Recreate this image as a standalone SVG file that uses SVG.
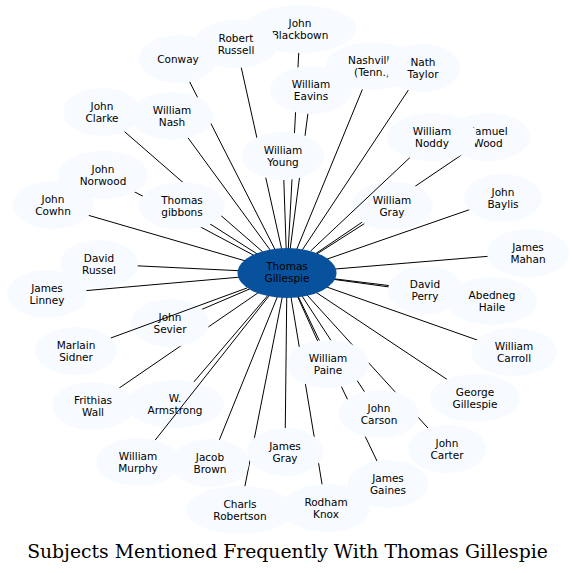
<svg xmlns="http://www.w3.org/2000/svg" width="575" height="573" viewBox="0 0 575 573">
<style>
.n ellipse{fill:#f7fbff;stroke:none}
.n text,.c text{font-family:"DejaVu Sans","Liberation Sans",sans-serif;font-size:10.5px;fill:#000;text-anchor:middle}
.c ellipse{fill:#08519c;stroke:none}
#edges line,#edges-over line{stroke:#000;stroke-width:1}
.title{font-family:"DejaVu Serif","Liberation Serif",serif;font-size:18.8px;fill:#000;text-anchor:middle}
</style>
<rect width="575" height="573" fill="#fff"/>
<g id="edges">
<line x1="287" y1="273" x2="300" y2="29"/>
<line x1="287" y1="273" x2="236" y2="44"/>
<line x1="287" y1="273" x2="178" y2="59"/>
<line x1="287" y1="273" x2="372" y2="66"/>
<line x1="287" y1="273" x2="423" y2="68"/>
<line x1="287" y1="273" x2="311" y2="90"/>
<line x1="287" y1="273" x2="102" y2="112"/>
<line x1="287" y1="273" x2="172" y2="116"/>
<line x1="287" y1="273" x2="488" y2="137"/>
<line x1="287" y1="273" x2="283" y2="156"/>
<line x1="287" y1="273" x2="103" y2="175"/>
<line x1="287" y1="273" x2="182" y2="206"/>
<line x1="287" y1="273" x2="53" y2="205"/>
<line x1="287" y1="273" x2="392" y2="206"/>
<line x1="287" y1="273" x2="503" y2="198"/>
<line x1="287" y1="273" x2="528" y2="253"/>
<line x1="287" y1="273" x2="99" y2="264"/>
<line x1="287" y1="273" x2="47" y2="294"/>
<line x1="287" y1="273" x2="425" y2="290"/>
<line x1="287" y1="273" x2="492" y2="301"/>
<line x1="287" y1="273" x2="170" y2="323"/>
<line x1="287" y1="273" x2="514" y2="353"/>
<line x1="287" y1="273" x2="328" y2="364"/>
<line x1="287" y1="273" x2="93" y2="406"/>
<line x1="287" y1="273" x2="175" y2="404"/>
<line x1="287" y1="273" x2="475" y2="398"/>
<line x1="287" y1="273" x2="379" y2="414"/>
<line x1="287" y1="273" x2="447" y2="449"/>
<line x1="287" y1="273" x2="210" y2="463"/>
<line x1="287" y1="273" x2="285" y2="452"/>
<line x1="287" y1="273" x2="388" y2="484"/>
<line x1="287" y1="273" x2="240" y2="511"/>
<line x1="287" y1="273" x2="326" y2="508"/>
</g>
<g id="n-blackbown" class="n"><ellipse cx="300" cy="29" rx="56" ry="24"/><text x="300" y="27">John</text><text x="300" y="39">Blackbown</text></g>
<g id="n-robertrussell" class="n"><ellipse cx="236" cy="44" rx="42" ry="24"/><text x="236" y="42">Robert</text><text x="236" y="54">Russell</text></g>
<g id="n-conway" class="n"><ellipse cx="178" cy="59" rx="39" ry="24"/><text x="178" y="63">Conway</text></g>
<g id="n-nashville" class="n"><ellipse cx="372" cy="66" rx="46" ry="24"/><text x="372" y="64">Nashville</text><text x="372" y="76">(Tenn.)</text></g>
<g id="n-nathtaylor" class="n"><ellipse cx="423" cy="68" rx="37" ry="24"/><text x="423" y="66">Nath</text><text x="423" y="78">Taylor</text></g>
<g id="n-eavins" class="n"><ellipse cx="311" cy="90" rx="41" ry="24"/><text x="311" y="88">William</text><text x="311" y="100">Eavins</text></g>
<g id="n-clarke" class="n"><ellipse cx="102" cy="112" rx="39" ry="24"/><text x="102" y="110">John</text><text x="102" y="122">Clarke</text></g>
<g id="n-nash" class="n"><ellipse cx="172" cy="116" rx="41" ry="24"/><text x="172" y="114">William</text><text x="172" y="126">Nash</text></g>
<g id="n-samuelwood" class="n"><ellipse cx="488" cy="137" rx="42" ry="24"/><text x="488" y="135">Samuel</text><text x="488" y="147">Wood</text></g>
<g id="n-noddy" class="n"><ellipse cx="432" cy="137" rx="45" ry="24"/><text x="432" y="135">William</text><text x="432" y="147">Noddy</text></g>
<g id="n-young" class="n"><ellipse cx="283" cy="156" rx="41" ry="24"/><text x="283" y="154">William</text><text x="283" y="166">Young</text></g>
<g id="n-norwood" class="n"><ellipse cx="103" cy="175" rx="45" ry="24"/><text x="103" y="173">John</text><text x="103" y="185">Norwood</text></g>
<g id="n-gibbons" class="n"><ellipse cx="182" cy="206" rx="43" ry="24"/><text x="182" y="204">Thomas</text><text x="182" y="216">gibbons</text></g>
<g id="n-cowhn" class="n"><ellipse cx="53" cy="205" rx="40" ry="24"/><text x="53" y="203">John</text><text x="53" y="215">Cowhn</text></g>
<g id="n-gray" class="n"><ellipse cx="392" cy="206" rx="41" ry="24"/><text x="392" y="204">William</text><text x="392" y="216">Gray</text></g>
<g id="n-baylis" class="n"><ellipse cx="503" cy="198" rx="39" ry="24"/><text x="503" y="196">John</text><text x="503" y="208">Baylis</text></g>
<g id="n-mahan" class="n"><ellipse cx="528" cy="253" rx="41" ry="24"/><text x="528" y="251">James</text><text x="528" y="263">Mahan</text></g>
<g id="n-davidrussel" class="n"><ellipse cx="99" cy="264" rx="39" ry="24"/><text x="99" y="262">David</text><text x="99" y="274">Russel</text></g>
<g id="n-linney" class="n"><ellipse cx="47" cy="294" rx="40" ry="24"/><text x="47" y="292">James</text><text x="47" y="304">Linney</text></g>
<g id="n-perry" class="n"><ellipse cx="425" cy="290" rx="37" ry="24"/><text x="425" y="288">David</text><text x="425" y="300">Perry</text></g>
<g id="n-haile" class="n"><ellipse cx="492" cy="301" rx="45" ry="24"/><text x="492" y="299">Abedneg</text><text x="492" y="311">Haile</text></g>
<g id="n-sevier" class="n"><ellipse cx="170" cy="323" rx="39" ry="24"/><text x="170" y="321">John</text><text x="170" y="333">Sevier</text></g>
<g id="n-sidner" class="n"><ellipse cx="76" cy="351" rx="41" ry="24"/><text x="76" y="349">Marlain</text><text x="76" y="361">Sidner</text></g>
<g id="n-carroll" class="n"><ellipse cx="514" cy="352" rx="43" ry="24"/><text x="514" y="350">William</text><text x="514" y="362">Carroll</text></g>
<g id="n-paine" class="n"><ellipse cx="328" cy="364" rx="41" ry="24"/><text x="328" y="362">William</text><text x="328" y="374">Paine</text></g>
<g id="n-wall" class="n"><ellipse cx="93" cy="406" rx="41" ry="24"/><text x="93" y="404">Frithias</text><text x="93" y="416">Wall</text></g>
<g id="n-armstrong" class="n"><ellipse cx="175" cy="404" rx="49" ry="24"/><text x="175" y="402">W.</text><text x="175" y="414">Armstrong</text></g>
<g id="n-georgegillespie" class="n"><ellipse cx="475" cy="398" rx="45" ry="24"/><text x="475" y="396">George</text><text x="475" y="408">Gillespie</text></g>
<g id="n-carson" class="n"><ellipse cx="379" cy="414" rx="40" ry="24"/><text x="379" y="412">John</text><text x="379" y="424">Carson</text></g>
<g id="n-carter" class="n"><ellipse cx="447" cy="449" rx="39" ry="24"/><text x="447" y="447">John</text><text x="447" y="459">Carter</text></g>
<g id="n-murphy" class="n"><ellipse cx="138" cy="462" rx="42" ry="24"/><text x="138" y="460">William</text><text x="138" y="472">Murphy</text></g>
<g id="n-jacobbrown" class="n"><ellipse cx="210" cy="463" rx="39" ry="24"/><text x="210" y="461">Jacob</text><text x="210" y="473">Brown</text></g>
<g id="n-jamesgray" class="n"><ellipse cx="285" cy="452" rx="38" ry="24"/><text x="285" y="450">James</text><text x="285" y="462">Gray</text></g>
<g id="n-gaines" class="n"><ellipse cx="388" cy="484" rx="40" ry="24"/><text x="388" y="482">James</text><text x="388" y="494">Gaines</text></g>
<g id="n-robertson" class="n"><ellipse cx="240" cy="510" rx="54" ry="24"/><text x="240" y="508">Charls</text><text x="240" y="520">Robertson</text></g>
<g id="n-knox" class="n"><ellipse cx="326" cy="508" rx="44" ry="24"/><text x="326" y="506">Rodham</text><text x="326" y="518">Knox</text></g>
<g id="edges-over">
<line x1="247.2" y1="287.9" x2="110.8" y2="338"/>
<line x1="268.8" y1="296.2" x2="155.2" y2="440.1"/>
<line x1="310.6" y1="251" x2="409.8" y2="157.7"/>
</g>
<g id="n-thomasgillespie" class="c"><ellipse cx="287" cy="273" rx="49.5" ry="25"/><text x="287" y="269.5">Thomas</text><text x="287" y="281.5">Gillespie</text></g>
<text class="title" x="287.5" y="558">Subjects Mentioned Frequently With Thomas Gillespie</text>
</svg>
